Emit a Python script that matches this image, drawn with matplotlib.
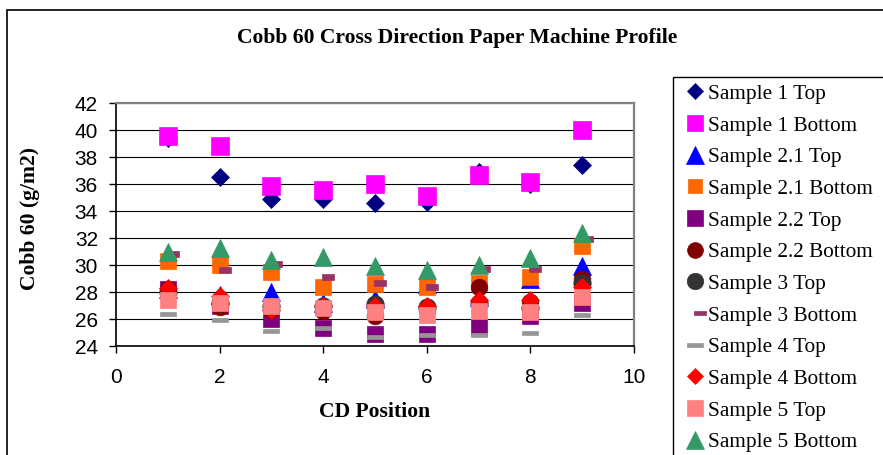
import matplotlib
matplotlib.use("Agg")
import matplotlib.pyplot as plt
from matplotlib.patches import Rectangle

# CD positions
cd_pos = [1, 2, 3, 4, 5, 6, 7, 8, 9]

# Cobb 60 values (g/m2)
s1_top = [39.4, 36.5, 34.9, 34.9, 34.6, 34.7, 36.9, 36.0, 37.4]
s1_bot = [39.6, 38.8, 35.9, 35.6, 36.0, 35.1, 36.7, 36.2, 40.0]
s21_top = [28.2, 27.8, 28.0, 27.2, 27.5, 28.6, 27.6, 29.0, 29.9]
s21_bot = [30.3, 30.0, 29.5, 28.4, 28.6, 28.4, 28.7, 29.1, 31.4]
s22_top = [28.2, 27.0, 26.0, 25.3, 24.9, 24.9, 25.4, 26.2, 27.2]
s22_bot = [28.2, 26.9, 26.7, 26.6, 26.2, 26.7, 28.4, 27.3, 29.0]
s3_top = [28.0, 27.2, 27.0, 27.0, 27.1, 26.9, 27.2, 26.8, 28.7]
s3_bot = [30.8, 29.6, 30.1, 29.1, 28.7, 28.4, 29.7, 29.7, 31.9]
s4_top = [26.4, 25.9, 25.1, 25.3, 24.7, 24.8, 24.8, 25.0, 26.3]
s4_bot = [28.3, 27.7, 26.7, 27.0, 27.0, 27.0, 27.4, 27.4, 28.4]
s5_top = [27.4, 27.2, 27.0, 26.8, 26.5, 26.3, 26.6, 26.5, 27.6]
s5_bot = [31.0, 31.3, 30.4, 30.6, 29.9, 29.6, 30.0, 30.5, 32.4]

labels = ["Sample 1 Top", "Sample 1 Bottom", "Sample 2.1 Top", "Sample 2.1 Bottom",
          "Sample 2.2 Top", "Sample 2.2 Bottom", "Sample 3 Top", "Sample 3 Bottom",
          "Sample 4 Top", "Sample 4 Bottom", "Sample 5 Top", "Sample 5 Bottom"]

# excel-like dash markers (sample 3 bottom sits a bit to the right)
dash_small = [(-1, -2.5), (11, -2.5), (11, 2.5), (-1, 2.5), (-1, -2.5)]
dash_wide = [(-8.5, -2.5), (8.5, -2.5), (8.5, 2.5), (-8.5, 2.5), (-8.5, -2.5)]

# (values, colour, marker, markersize)
series = [
    (s1_top, "#000080", "D", 9),
    (s1_bot, "#FF00FF", "s", 12.5),
    (s21_top, "#0000FF", "^", 13),
    (s21_bot, "#FF6600", "s", 11),
    (s22_top, "#800080", "s", 12),
    (s22_bot, "#800000", "o", 12),
    (s3_top, "#333333", "o", 12.5),
    (s3_bot, "#993366", dash_small, 16),
    (s4_top, "#969696", dash_wide, 12.2),
    (s4_bot, "#FF0000", "D", 9),
    (s5_top, "#FF8080", "s", 11.5),
    (s5_bot, "#339966", "^", 13),
]

serif = "Liberation Serif"
sans = "Liberation Sans"

fig = plt.figure(figsize=(8.83, 4.55), dpi=100)
ax = fig.add_axes([116 / 883, 1 - 346 / 455, 518 / 883, 242.7 / 455])

for (vals, col, mk, ms), lab in zip(series, labels):
    ax.plot(cd_pos, vals, linestyle="none", marker=mk, markersize=ms,
            color=col, markeredgecolor=col, markeredgewidth=0.5, label=lab,
            clip_on=False, zorder=3)

ax.set_xlim(0, 10)
ax.set_ylim(24, 42)
ax.set_xticks(range(0, 11, 2))
ax.set_yticks(range(24, 43, 2))
ax.grid(axis="y", color="black", linewidth=0.8)
ax.set_axisbelow(True)

for side in ["top", "right"]:
    ax.spines[side].set_color("#808080")
    ax.spines[side].set_linewidth(1.6)
for side in ["left", "bottom"]:
    ax.spines[side].set_color("black")
    ax.spines[side].set_linewidth(1.2)

ax.tick_params(axis="both", direction="out", length=5, width=1, color="black",
               labelsize=15)
ax.tick_params(axis="y", pad=8)
ax.tick_params(axis="x", pad=11)
for t in ax.get_xticklabels() + ax.get_yticklabels():
    t.set_fontfamily(sans)

fig.text(457 / 883, 1 - 38 / 455, "Cobb 60 Cross Direction Paper Machine Profile",
         ha="center", va="center", fontsize=15.6, fontweight="bold", family=serif)
fig.text(375 / 883, 1 - 412 / 455, "CD Position", ha="center", va="center",
         fontsize=15.6, fontweight="bold", family=serif)
fig.text(30 / 883, 1 - 219 / 455, "Cobb 60 (g/m2)", ha="center", va="center",
         rotation=90, fontsize=15.6, fontweight="bold", family=serif)

# chart area border (runs off the right and bottom edges)
fig.patches.append(Rectangle((7.5 / 883, -0.1), 1.0, 1 - 9.5 / 455 + 0.1,
                             transform=fig.transFigure, fill=False,
                             edgecolor="black", linewidth=1.2))
# legend box
fig.patches.append(Rectangle((673 / 883, -0.1), 0.3, 1 - 77 / 455 + 0.1,
                             transform=fig.transFigure, fill=False,
                             edgecolor="black", linewidth=1.0))

handles, labs = ax.get_legend_handles_labels()
fig.legend(handles, labs, loc="upper left", bbox_to_anchor=(686 / 883, 1 - 84 / 455),
           frameon=False, prop={"family": serif, "size": 15.3}, markerscale=0.95,
           handlelength=0.8, handletextpad=0.25, labelspacing=0.555,
           borderpad=0, borderaxespad=0)

fig.savefig("out.png", dpi=100)
